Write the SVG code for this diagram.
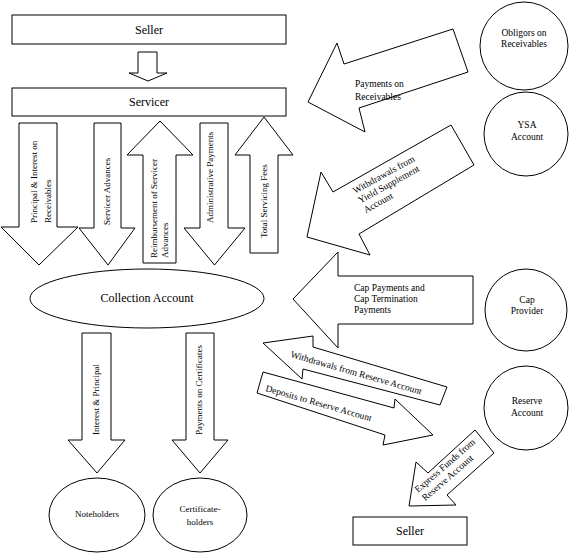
<svg xmlns="http://www.w3.org/2000/svg" width="570" height="554" viewBox="0 0 570 554">
<style>
.s{fill:#fff;stroke:#000;stroke-width:1}
text{font-family:'Liberation Serif','Times New Roman',serif;fill:#000}
.big{font-size:12px}
.sm{font-size:9.5px}
.vt{font-size:9px}
.c{text-anchor:middle}
</style>
<rect width="570" height="554" fill="#fff"/>
<g id="connectors">
  <polygon class="s" points="138,52 157,52 157,73 167,73 148,81 129,73 138,73"/>
  <polygon class="s" points="19,123 57,123 57,227 78,227 39,265 1,227 19,227"/>
  <polygon class="s" points="94,123 121,123 121,228 135,228 108,265 79,228 94,228"/>
  <polygon class="s" points="160,121 193,155 176,155 176,263 143,263 143,155 127,155"/>
  <polygon class="s" points="200,123 228,123 228,228 245,228 214.5,265 184,228 200,228"/>
  <polygon class="s" points="264,117 293,155 278,155 278,253 250,253 250,155 235,155"/>
  <polygon class="s" points="82,333 111,333 111,440 125,440 97,473 68,440 82,440"/>
  <polygon class="s" points="186,333 214,333 214,440 228,440 200,473 172,440 186,440"/>
  <polygon class="s" points="308,102 337,43 344,64 453,29 468,72 359,108 365,132"/>
  <polygon class="s" points="307,237 321,172 333,192 451,125 474,165 359,234 370,255"/>
  <polygon class="s" points="293,299 338,252 338,276 473,276 473,324 338,324 338,348"/>
  <polygon class="s" points="263,343 313,336 313,347 447,387 440,405 303,369 302,379"/>
  <polygon class="s" points="263,372 394,408 395,399 433,435 383,445 385,435 257,393"/>
  <polygon class="s" points="409,506 416,462 428,473 475,430 494,453 447,495 456,505"/>

  <text class="vt" transform="translate(37,223) rotate(-90)">Principal &amp; Interest on<tspan x="0" dy="14">Receivables</tspan></text>
  <text class="vt" transform="translate(110,225) rotate(-90)">Servicer Advances</text>
  <text class="vt" transform="translate(157,258) rotate(-90)">Reimbursement of Servicer<tspan x="0" dy="10.5">Advances</tspan></text>
  <text class="vt" transform="translate(213,223) rotate(-90)">Administrative Payments</text>
  <text class="vt" transform="translate(267,238) rotate(-90)">Total Servicing Fees</text>
  <text class="vt" transform="translate(99,435) rotate(-90)">Interest &amp; Principal</text>
  <text class="vt" transform="translate(202,435) rotate(-90)">Payments on Certificates</text>

  <text class="sm" x="355" y="87">Payments on<tspan x="355" dy="13">Receivables</tspan></text>
  <text class="sm" transform="translate(355,194) rotate(-29)">Withdrawals from<tspan x="0" dy="11">Yield Supplement</tspan><tspan x="0" dy="11">Account</tspan></text>
  <text class="sm" x="354" y="291">Cap Payments and<tspan x="354" dy="11">Cap Termination</tspan><tspan x="354" dy="11">Payments</tspan></text>
  <text class="sm" transform="translate(290,357) rotate(16)">Withdrawals from Reserve Account</text>
  <text class="sm" transform="translate(265,391) rotate(16)">Deposits to Reserve Account</text>
  <text class="sm" transform="translate(418,493) rotate(-41)">Express Funds from<tspan x="0" dy="11">Reserve Account</tspan></text>
</g>
<g id="seller">
  <rect class="s" x="12" y="15" width="274" height="29"/>
  <text class="big c" x="149" y="34">Seller</text>
</g>
<g id="servicer">
  <rect class="s" x="12" y="88" width="274" height="28"/>
  <text class="big c" x="149" y="106">Servicer</text>
</g>
<g id="collection-account">
  <ellipse class="s" cx="147" cy="298.5" rx="117" ry="29.5"/>
  <text class="big c" x="147" y="302">Collection Account</text>
</g>
<g id="noteholders">
  <ellipse class="s" cx="97" cy="515" rx="48" ry="37"/>
  <text class="vt c" x="97" y="517">Noteholders</text>
</g>
<g id="certificateholders">
  <ellipse class="s" cx="200" cy="515" rx="47" ry="37"/>
  <text class="vt c" x="200" y="512">Certificate-<tspan x="200" dy="13">holders</tspan></text>
</g>
<g id="obligors">
  <circle class="s" cx="524" cy="46" r="44"/>
  <text class="sm c" x="524" y="36">Obligors on<tspan x="524" dy="11">Receivables</tspan></text>
</g>
<g id="ysa-account">
  <circle class="s" cx="526" cy="134" r="42"/>
  <text class="sm c" x="527" y="128">YSA<tspan x="527" dy="12">Account</tspan></text>
</g>
<g id="cap-provider">
  <circle class="s" cx="526" cy="310" r="41"/>
  <text class="sm c" x="527" y="303">Cap<tspan x="527" dy="11">Provider</tspan></text>
</g>
<g id="reserve-account">
  <circle class="s" cx="526" cy="408" r="42"/>
  <text class="sm c" x="527" y="404">Reserve<tspan x="527" dy="12">Account</tspan></text>
</g>
<g id="seller-2">
  <rect class="s" x="353" y="517" width="114" height="28"/>
  <text class="big c" x="410" y="535">Seller</text>
</g>
</svg>
